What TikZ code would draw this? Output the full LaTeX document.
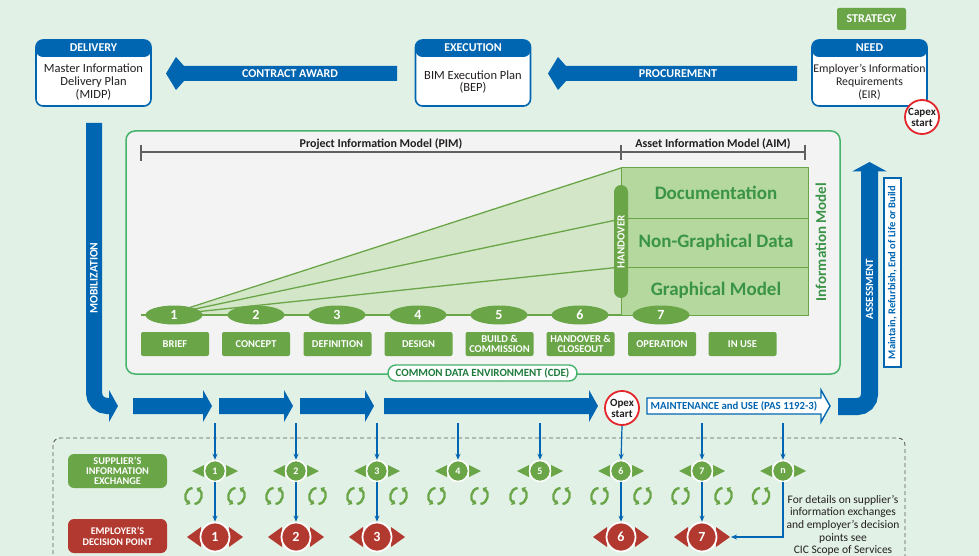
\documentclass[tikz,border=0pt]{standalone}
\usepackage{fontspec}
\setmainfont{Carlito}
\usetikzlibrary{arrows.meta,shapes.geometric,calc}
\definecolor{bg}{HTML}{E1F1E6}
\definecolor{blu}{HTML}{0066B2}
\definecolor{grn}{HTML}{6AA548}
\definecolor{pnl}{HTML}{F3F3F3}
\definecolor{pnlb}{HTML}{45B36B}
\definecolor{wedge}{HTML}{D3E7C8}
\definecolor{aim}{HTML}{B4D89D}
\definecolor{aimtxt}{HTML}{3A9446}
\definecolor{cdetxt}{HTML}{1E7B3B}
\definecolor{redd}{HTML}{B2392F}
\definecolor{redc}{HTML}{E3262B}
\definecolor{txt}{HTML}{231F20}
\newcommand\myfatarrow[3]{\fill[blu] (#1,398) -- (#2,398) -- (#2,390) -- (#3,406) -- (#2,422) -- (#2,414) -- (#1,414) -- cycle;}
\begin{document}
\begin{tikzpicture}[x=1pt,y=-1pt,
  topbox/.style={draw=blu, line width=1.6, fill=white, rounded corners=7, minimum width=115, minimum height=66, inner sep=0,
     path picture={\fill[blu] (path picture bounding box.north west) rectangle ([yshift=-17pt]path picture bounding box.north east);}},
  hdr/.style={text=white, font=\bfseries\fontsize{12}{12}\selectfont, inner sep=0},
  bodytxt/.style={text=txt, align=center, font=\fontsize{12.5}{12.8}\selectfont, inner sep=0},
  arrtxt/.style={text=white, font=\bfseries\fontsize{12}{12}\selectfont, inner sep=0},
  pill/.style={ellipse, fill=grn, minimum width=57, minimum height=19, inner sep=0, text=white, font=\bfseries\fontsize{14}{14}\selectfont},
  stagebox/.style={fill=grn, rounded corners=2, minimum width=68, minimum height=24, inner sep=0, text=white, align=center, font=\bfseries\fontsize{10.5}{10}\selectfont},
  aimlbl/.style={text=aimtxt, font=\bfseries\fontsize{19}{19}\selectfont, inner sep=0},
  supc/.style={circle, fill=grn, draw=white, line width=1.5, minimum size=21, inner sep=0, text=white, font=\bfseries\fontsize{10}{10}\selectfont},
  decc/.style={circle, fill=redd, draw=white, line width=1.8, minimum size=29, inner sep=0, text=white, font=\bfseries\fontsize{14}{14}\selectfont},
  dnarr/.style={blu, line width=1.2, -{Stealth[length=6pt,width=5pt]}},
  startc/.style={circle, draw=redc, line width=1.8, fill=white, minimum size=34, inner sep=0, align=center, text=txt, font=\bfseries\fontsize{11}{11}\selectfont},
  cyc/.pic={\draw[grn, line width=2.4, -{Triangle[length=3.5pt,width=6pt]}] (-1,-8) .. controls (-9,-7) and (-10,4) .. (-3,8);
            \draw[grn, line width=2.4, -{Triangle[length=3.5pt,width=6pt]}] (1,8) .. controls (9,7) and (10,-4) .. (3,-8);}
]
\useasboundingbox (0,0) rectangle (979,556);
\fill[bg] (0,0) rectangle (979,556);

% ---- top row ----
\node[fill=grn, rounded corners=2, minimum width=69, minimum height=22, inner sep=0, text=white, font=\bfseries\fontsize{12}{12}\selectfont] (strat) at (871.5,19) {STRATEGY};

\node[topbox] (need) at (869.5,73) {};
\node[hdr] at ($(need.north)+(0,8.5)$) {NEED};
\node[bodytxt, font=\fontsize{11.8}{12.8}\selectfont] at ($(need.center)+(0,9)$) {Employer’s Information\\Requirements\\(EIR)};

\node[topbox] (exec) at (473,73) {};
\node[hdr] at ($(exec.north)+(0,8.5)$) {EXECUTION};
\node[bodytxt] at ($(exec.center)+(0,9)$) {BIM Execution Plan\\(BEP)};

\node[topbox] (deliv) at (93.5,73) {};
\node[hdr] at ($(deliv.north)+(0,8.5)$) {DELIVERY};
\node[bodytxt] at ($(deliv.center)+(0,9)$) {Master Information\\Delivery Plan\\(MIDP)};

\node[startc] (capex) at (922,117) {Capex\\start};

% procurement and contract award arrows
\fill[blu] (797,66) -- (566,66) -- (558,57) -- (548,73.5) -- (558,90) -- (566,81) -- (797,81) -- cycle;
\node[arrtxt] (proc) at (678,73.5) {PROCUREMENT};
\fill[blu] (397,66) -- (184,66) -- (176,57) -- (166,73.5) -- (176,90) -- (184,81) -- (397,81) -- cycle;
\node[arrtxt] (award) at (290,73.5) {CONTRACT AWARD};

% mobilization
\draw[blu, line width=16, rounded corners=13] (94,123) -- (94,406) -- (110,406);
\fill[blu] (109,390) -- (118,406) -- (109,422) -- cycle;
\node[arrtxt, rotate=90, font=\bfseries\fontsize{11.5}{11.5}\selectfont] (mob) at (94,278) {MOBILIZATION};

% assessment
\draw[blu, line width=17, rounded corners=12] (838,406.5) -- (869.5,406.5) -- (869.5,170);
\fill[blu] (852,171.5) -- (869.5,162) -- (887,171.5) -- cycle;
\node[arrtxt, rotate=90, font=\bfseries\fontsize{11}{11}\selectfont] (assess) at (869.5,289) {ASSESSMENT};
\node[draw=blu, line width=1.2, fill=white, rotate=90, minimum width=189, minimum height=17, inner sep=0, text=blu, font=\bfseries\fontsize{10.5}{10.5}\selectfont] (maint) at (892.5,272.5) {Maintain, Refurbish, End of Life or Build};

% ---- panel ----
\draw[pnlb, fill=pnl, line width=1.5, rounded corners=9] (126,131) rectangle (840,374);
\draw[gray!75!black, line width=1.3] (141,152) -- (805,152);
\draw[gray!75!black, line width=1.3] (141,145) -- (141,161);
\draw[gray!75!black, line width=1.3] (621,145) -- (621,160);
\draw[gray!75!black, line width=1.3] (805,145) -- (805,160);
\node[text=txt, font=\bfseries\fontsize{12}{12}\selectfont] (pim) at (381,144) {Project Information Model (PIM)};
\node[text=txt, font=\bfseries\fontsize{12}{12}\selectfont] (aimlab) at (713,144) {Asset Information Model (AIM)};

\fill[wedge] (176,313) -- (621,168) -- (621,315) -- (176,315) -- cycle;
\draw[grn, line width=1.3] (176,312) -- (621,168);
\draw[grn, line width=1.3] (176,313) -- (621,219);
\draw[grn, line width=1.3] (176,314) -- (621,267);
\draw[grn, line width=1.6] (141,315) -- (808,315);

\draw[grn, fill=aim, line width=1] (621,168) rectangle (808,218);
\draw[grn, fill=aim, line width=1] (621,218) rectangle (808,267);
\draw[grn, fill=aim, line width=1] (621,267) rectangle (808,315);
\node[aimlbl] (doc) at (716,193) {Documentation};
\node[aimlbl] (ngd) at (716,242) {Non-Graphical Data};
\node[aimlbl] (gm) at (716,290) {Graphical Model};
\node[text=aimtxt, rotate=90, inner sep=0, font=\bfseries\fontsize{15}{15}\selectfont] (im) at (821,242) {Information Model};

\node[fill=grn, rounded corners=7, rotate=90, minimum width=113, minimum height=14, inner sep=0, text=white, font=\bfseries\fontsize{11}{11}\selectfont] (hand) at (621,241.5) {HANDOVER};

\foreach \x/\l in {174/1,256/2,337/3,418/4,499/5,580/6,661/7}
  \node[pill] (p\l) at (\x,315) {\l};

\node[stagebox] (b1) at (175,344) {BRIEF};
\node[stagebox] (b2) at (256,344) {CONCEPT};
\node[stagebox] (b3) at (337.5,344) {DEFINITION};
\node[stagebox] (b4) at (418.5,344) {DESIGN};
\node[stagebox] (b5) at (499.5,344) {BUILD \&\\COMMISSION};
\node[stagebox] (b6) at (580.5,344) {HANDOVER \&\\CLOSEOUT};
\node[stagebox] (b7) at (662,344) {OPERATION};
\node[stagebox] (b8) at (742.5,344) {IN USE};

\node[draw=pnlb, line width=1.4, fill=white, rounded corners=8, minimum width=189, minimum height=16, inner sep=0, text=cdetxt, font=\bfseries\fontsize{11}{11}\selectfont] (cde) at (482.5,373) {COMMON DATA ENVIRONMENT (CDE)};

% ---- flow arrows ----
\myfatarrow{133}{203}{212}
\myfatarrow{219}{284}{293}
\myfatarrow{300}{365}{374}
\myfatarrow{384}{589}{598}
\node[startc] (opex) at (622,408) {Opex\\start};
\draw[blu, line width=1.4, fill=white] (647,398) -- (821,398) -- (821,390) -- (830,406) -- (821,422) -- (821,414) -- (647,414) -- cycle;
\node[text=blu, inner sep=0, font=\bfseries\fontsize{10.8}{10.8}\selectfont] (mu) at (734,406) {MAINTENANCE and USE (PAS 1192-3)};

% ---- bottom ----
\draw[gray!70!black, line width=0.9, dash pattern=on 4pt off 3pt, rounded corners=7] (53,575) -- (53,438) -- (905,438) -- (905,575);

\node[fill=grn, rounded corners=6, minimum width=99, minimum height=34, inner sep=0, text=white, align=center, font=\bfseries\fontsize{10.3}{9.8}\selectfont] (supl) at (117.5,471) {SUPPLIER’S\\INFORMATION\\EXCHANGE};
\node[fill=redd, rounded corners=6, minimum width=99, minimum height=34, inner sep=0, text=white, align=center, font=\bfseries\fontsize{10.2}{10.8}\selectfont] (empl) at (117.5,536) {EMPLOYER’S\\DECISION POINT};

\foreach \x/\l [count=\i] in {215/1,296/2,377/3,458/4,540/5,621/6,702/7,783/n} {
  \fill[grn] (\x-11,465) -- (\x-23,471) -- (\x-11,477) -- cycle;
  \fill[grn] (\x+11,465) -- (\x+23,471) -- (\x+11,477) -- cycle;
  \node[supc] (sx\i) at (\x,471) {\l};
}
\foreach \x [count=\i] in {215,296,377,458,540} {
  \coordinate (top\i) at (\x,423);
  \draw[dnarr] (top\i) -- (sx\i.north);
}
\draw[dnarr] (opex.south) -- (sx6.north);
\coordinate (top7) at (702,423);
\coordinate (top8) at (783,423);
\draw[dnarr] (top7) -- (sx7.north);
\draw[dnarr] (top8) -- (sx8.north);

\foreach \x in {215,296,377,458,540,621,702} {
  \pic at (\x-21.5,496) {cyc};
  \pic at (\x+21.5,496) {cyc};
}
\pic at (761,496) {cyc};

\foreach \x/\l/\i in {215/1/1,296/2/2,377/3/3,621/6/6,702/7/7} {
  \fill[redd] (\x-14,527) -- (\x-28,537) -- (\x-14,547) -- cycle;
  \fill[redd] (\x+14,527) -- (\x+28,537) -- (\x+14,547) -- cycle;
  \node[decc] (dp\i) at (\x,537) {\l};
  \draw[dnarr] (sx\i.south) -- (dp\i.north);
}
\coordinate (dp7r) at (731,537);
\draw[dnarr] (sx8.south) |- (dp7r);

\node[anchor=north, align=center, inner sep=0, text=txt, font=\fontsize{11.5}{12.6}\selectfont] (note) at (843,495) {For details on supplier’s\\information exchanges\\and employer’s decision\\points see\\CIC Scope of Services};
\end{tikzpicture}
\end{document}
